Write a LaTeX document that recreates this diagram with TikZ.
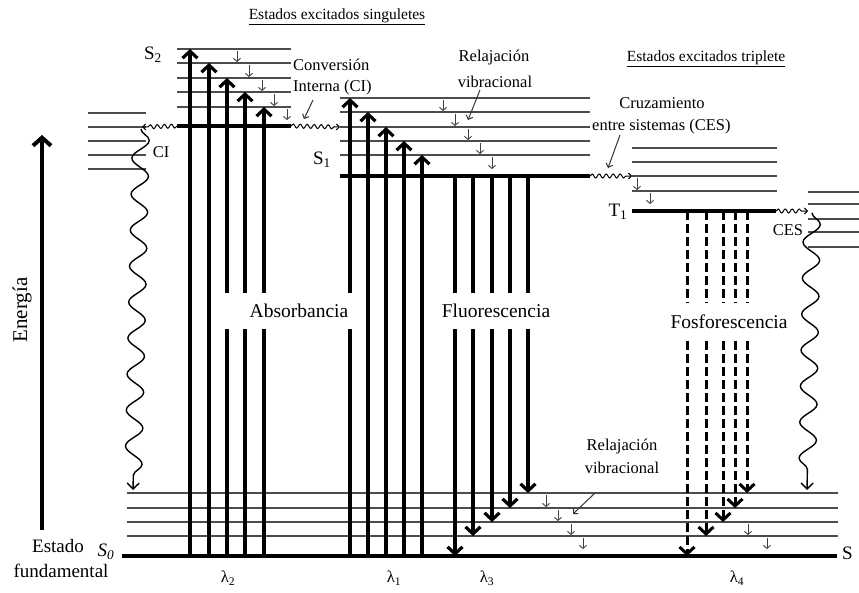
\documentclass[tikz,border=0pt]{standalone}
\usepackage{fontspec}
\setmainfont{Liberation Serif}
\usetikzlibrary{arrows.meta,decorations.pathmorphing,calc}
\begin{document}
\begin{tikzpicture}[x=1pt,y=-1pt,
  thinlev/.style={line width=1.3pt, draw=black!70},
  thicklev/.style={line width=4.2pt},
  absarr/.style={line width=3.2pt, -{Straight Barb[length=7pt,width=15pt]}},
  dasharr/.style={line width=3pt, dash pattern=on 9pt off 4pt, -{Straight Barb[length=7pt,width=15pt]}},
  smallarr/.style={line width=0.9pt, draw=black!75, -{Straight Barb[length=3pt,width=7pt]}},
  ptrarr/.style={line width=1pt, draw=black!80, -{Straight Barb[length=3.5pt,width=7pt]}},
  wavyh/.style={line width=1pt, decorate, decoration={snake, amplitude=2pt, segment length=7pt, post length=4pt}, -{Straight Barb[length=3pt,width=6pt]}},
  wavyv/.style={line width=1.4pt, decorate, decoration={snake, amplitude=8.5pt, segment length=36pt, post length=8pt}, -{Straight Barb[length=6pt,width=12pt]}},
  lbl/.style={font=\fontsize{16.5}{18}\selectfont, inner sep=0pt},
  hdr/.style={font=\fontsize{15.5}{17}\selectfont, inner sep=0pt},
  big/.style={font=\fontsize{19.5}{21}\selectfont, inner sep=0pt},
  st/.style={font=\fontsize{19}{21}\selectfont, inner sep=0pt},
  gap/.style={fill=white, draw=none, inner sep=0pt}
]
\useasboundingbox[fill=white] (0,0) rectangle (859,592);

% ---------- levels ----------
% S2
\foreach \y [count=\i] in {49,63,78,92,107} {
  \coordinate (s2l\i) at (177,\y); \coordinate (s2r\i) at (291,\y);
  \draw[thinlev] (s2l\i) -- (s2r\i);
}
\coordinate (S2L) at (177,126); \coordinate (S2R) at (291,126);
\draw[thicklev] (S2L) -- (S2R);
% left CI levels
\foreach \y [count=\i] in {113,127,141,155,169} {
  \coordinate (cil\i) at (88,\y); \coordinate (cir\i) at (146,\y);
  \draw[thinlev] (cil\i) -- (cir\i);
}
% S1
\foreach \y [count=\i] in {98,112,127,141,155} {
  \coordinate (s1l\i) at (340,\y); \coordinate (s1r\i) at (590,\y);
  \draw[thinlev] (s1l\i) -- (s1r\i);
}
\coordinate (S1L) at (340,176); \coordinate (S1R) at (590,176);
\draw[thicklev] (S1L) -- (S1R);
% T1
\foreach \y [count=\i] in {148,162,176,191} {
  \coordinate (t1l\i) at (632,\y); \coordinate (t1r\i) at (777,\y);
  \draw[thinlev] (t1l\i) -- (t1r\i);
}
\coordinate (T1L) at (632,211); \coordinate (T1R) at (776,211);
\draw[thicklev] (T1L) -- (T1R);
% right levels
\foreach \y [count=\i] in {192,204,219,232,247} {
  \coordinate (rl\i) at (808,\y); \coordinate (rr\i) at (859,\y);
  \draw[thinlev] (rl\i) -- (rr\i);
}
% S0
\foreach \y [count=\i] in {493,508,522,536} {
  \coordinate (s0l\i) at (127,\y); \coordinate (s0r\i) at (838,\y);
  \draw[thinlev] (s0l\i) -- (s0r\i);
}
\coordinate (S0L) at (122,556); \coordinate (S0R) at (837,556);
\draw[line width=4.6pt] (S0L) -- (S0R);

% ---------- absorption ----------
\foreach \x/\yt [count=\i] in {190/49,209/63,227/78,245/92,264/107} {
  \coordinate (ab\i) at (\x,556); \coordinate (at\i) at (\x,\yt);
  \draw[absarr] (ab\i) -- (at\i);
}
\foreach \x/\yt [count=\i] in {350/98,368/112,386/127,404/141,422/155} {
  \coordinate (bb\i) at (\x,556); \coordinate (bt\i) at (\x,\yt);
  \draw[absarr] (bb\i) -- (bt\i);
}
% ---------- fluorescence ----------
\foreach \x/\yb [count=\i] in {455/556,473/536,492/522,510/508,528/493} {
  \coordinate (fs\i) at (\x,176); \coordinate (fe\i) at (\x,\yb);
  \draw[absarr] (fs\i) -- (fe\i);
}
% ---------- phosphorescence ----------
\foreach \x/\yb [count=\i] in {687/556,706/536,723/522,735/508,747/493} {
  \coordinate (ps\i) at (\x,211); \coordinate (pe\i) at (\x,\yb);
  \draw[dasharr] (ps\i) -- (pe\i);
}

% ---------- small vibrational relaxation arrows ----------
\foreach \x/\ya/\yb [count=\i] in {237/51/62,249/65/77,262/80/91,274/94/106,287/109/120,
    443/100/111,455/114/126,468/129/140,480/143/154,492/157/169,
    637/178/190,650/193/204,
    546/495/507,558/510/521,571/524/535,583/538/549,748/524/535,767/538/549} {
  \coordinate (va\i) at (\x,\ya); \coordinate (vb\i) at (\x,\yb);
  \draw[smallarr] (va\i) -- (vb\i);
}

% ---------- wavy (non-radiative) ----------
\coordinate (cit) at (142,127);
\draw[wavyh] (S2L) -- (cit);
\draw[wavyh] (S2R) -- (s1l3);
\draw[wavyh] (S1R) -- (t1l3);
\coordinate (cest) at (808,211);
\draw[wavyh] (T1R) -- (cest);
\coordinate (lw1) at (141,129); \coordinate (lw2) at (133,490);
\draw[wavyv] (lw1) -- (lw2);
\coordinate (rw1) at (812,213); \coordinate (rw2) at (807,490);
\draw[wavyv] (rw1) -- (rw2);

% ---------- energy axis ----------
\coordinate (eb) at (42,530); \coordinate (et) at (42,135);
\draw[line width=4pt, -{Straight Barb[length=8pt,width=18pt]}] (eb) -- (et);
\node[font=\fontsize{21}{23}\selectfont, inner sep=0pt, rotate=90] (energia) at (22,310) {Energía};

% ---------- big labels with gaps ----------
\node[gap, minimum width=134pt, minimum height=36pt] (absgap) at (288,311) {};
\node[big] (abs) at (299,311) {Absorbancia};
\node[gap, minimum width=118pt, minimum height=36pt] (flugap) at (496,311) {};
\node[big] (flu) at (496,311) {Fluorescencia};
\node[gap, minimum width=128pt, minimum height=38pt] (fosgap) at (729,322) {};
\node[big] (fos) at (729,322) {Fosforescencia};

% ---------- text labels ----------
\node[hdr] (hs) at (337,17) {\underline{Estados excitados singuletes}};
\node[hdr] (ht) at (706,59) {\underline{Estados excitados triplete}};
\node[st] (lS2) at (153,55) {S\textsubscript{2}};
\node[st] (lS1) at (322,160) {S\textsubscript{1}};
\node[st] (lT1) at (618,212) {T\textsubscript{1}};
\node[st] (lS0) at (106,552) {\itshape S\textsubscript{0}};
\node[st, anchor=west] (lS) at (842,553) {S};
\node[lbl, anchor=west] (conv) at (293,65) {Conversión};
\node[lbl, anchor=west] (intern) at (293,88) {Interna (CI)};
\node[lbl] (rel1) at (494,58) {Relajación};
\node[lbl] (vib1) at (495,82) {vibracional};
\node[lbl] (cruz) at (662,103) {Cruzamiento};
\node[lbl, anchor=west] (entre) at (592,127) {entre sistemas (CES)};
\node[lbl] (ci) at (161,152) {CI};
\node[lbl] (ces) at (788,230) {CES};
\node[lbl] (rel2) at (622,447) {Relajación};
\node[lbl] (vib2) at (622,468) {vibracional};
\node[st] (est) at (58,546) {Estado};
\node[st] (fund) at (61,571) {fundamental};
\node[lbl] (l2) at (228,578) {λ\textsubscript{2}};
\node[lbl] (l1) at (394,578) {λ\textsubscript{1}};
\node[lbl] (l3) at (487,578) {λ\textsubscript{3}};
\node[lbl] (l4) at (737,578) {λ\textsubscript{4}};

% ---------- pointer arrows ----------
\coordinate (p1a) at (313,100); \coordinate (p1b) at (304,119);
\draw[ptrarr] (p1a) -- (p1b);
\coordinate (p2a) at (480,90); \coordinate (p2b) at (468,120);
\draw[ptrarr] (p2a) -- (p2b);
\coordinate (p3a) at (620,135); \coordinate (p3b) at (608,168);
\draw[ptrarr] (p3a) -- (p3b);
\coordinate (p4a) at (595,493); \coordinate (p4b) at (573,514);
\draw[ptrarr] (p4a) -- (p4b);
\end{tikzpicture}
\end{document}
